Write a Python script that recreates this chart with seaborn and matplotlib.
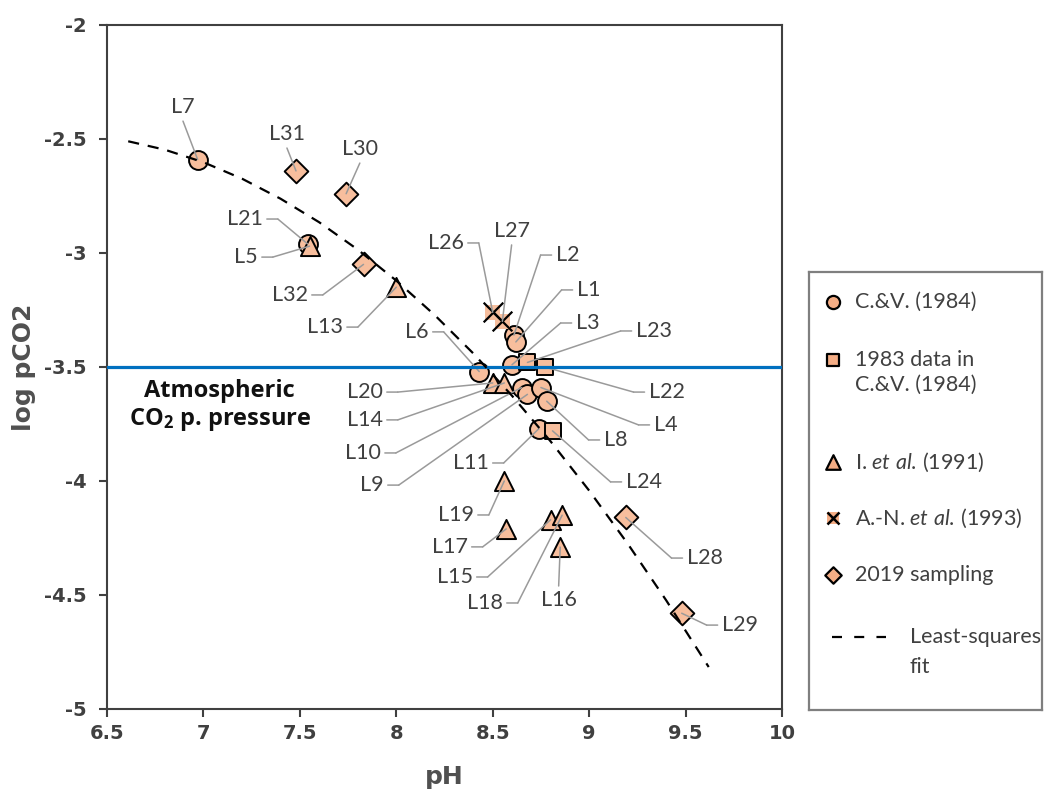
import matplotlib
matplotlib.use("Agg")
import matplotlib.pyplot as plt
import numpy as np
import pandas as pd
import seaborn as sns
from matplotlib.transforms import offset_copy

# ---------------- data ----------------
cv_labels = ["L7", "L21", "L2", "L1", "L3", "L6", "L10", "L9", "L4", "L8", "L11"]
cv_ph = [6.97, 7.54, 8.61, 8.62, 8.60, 8.43, 8.65, 8.68, 8.75, 8.78, 8.74]
cv_pco2 = [-2.59, -2.96, -3.36, -3.39, -3.49, -3.52, -3.59, -3.62, -3.59, -3.65, -3.77]

sq_labels = ["L23", "L22", "L24"]
sq_ph = [8.68, 8.77, 8.81]
sq_pco2 = [-3.48, -3.50, -3.78]

tri_labels = ["L5", "L13", "L20", "L14", "L19", "L17", "L15", "L18", "L16"]
tri_ph = [7.55, 8.00, 8.50, 8.56, 8.56, 8.57, 8.80, 8.86, 8.85]
tri_pco2 = [-2.97, -3.15, -3.57, -3.57, -4.00, -4.21, -4.17, -4.15, -4.29]

an_labels = ["L26", "L27"]
an_ph = [8.50, 8.55]
an_pco2 = [-3.26, -3.30]

s19_labels = ["L31", "L30", "L32", "L28", "L29"]
s19_ph = [7.48, 7.74, 7.83, 9.19, 9.48]
s19_pco2 = [-2.64, -2.74, -3.05, -4.16, -4.58]

fit_ph = [6.61, 6.8, 7.0, 7.2, 7.4, 7.6, 7.8, 8.0, 8.2, 8.4, 8.6, 8.8, 9.0, 9.2, 9.4, 9.62]
fit_pco2 = [-2.51, -2.547, -2.602, -2.674, -2.762, -2.865, -2.985, -3.121, -3.273,
            -3.441, -3.626, -3.826, -4.042, -4.275, -4.524, -4.816]

atm_pco2 = -3.5

x_ticks = [6.5, 7, 7.5, 8, 8.5, 9, 9.5, 10]
x_ticklabels = ["6.5", "7", "7.5", "8", "8.5", "9", "9.5", "10"]
y_ticks = [-5, -4.5, -4, -3.5, -3, -2.5, -2]
y_ticklabels = ["-5", "-4.5", "-4", "-3.5", "-3", "-2.5", "-2"]

series_names = ["C.&V. (1984)", "1983 data in C.&V. (1984)", "I. et al. (1991)",
                "A.-N. et al. (1993)", "2019 sampling"]

# ---------------- layout / style (not data) ----------------
callout_pos = {  # label: (side, anchor pH, anchor logpCO2)
    "L7": ("T", 6.894, -2.404), "L31": ("T", 7.433, -2.522), "L30": ("T", 7.811, -2.588),
    "L27": ("T", 8.598, -2.947), "L16": ("B", 8.842, -4.478),
    "L21": ("L", 7.308, -2.851), "L5": ("L", 7.282, -3.018), "L32": ("L", 7.541, -3.184),
    "L13": ("L", 7.723, -3.325), "L6": ("L", 8.168, -3.346), "L26": ("L", 8.350, -2.956),
    "L11": ("L", 8.479, -3.921), "L20": ("L", 7.930, -3.610), "L14": ("L", 7.930, -3.732),
    "L10": ("L", 7.920, -3.877), "L9": ("L", 7.935, -4.018), "L19": ("L", 8.402, -4.149),
    "L17": ("L", 8.370, -4.289), "L15": ("L", 8.396, -4.421), "L18": ("L", 8.552, -4.535),
    "L2": ("R", 8.826, -3.009), "L1": ("R", 8.935, -3.162), "L3": ("R", 8.930, -3.307),
    "L23": ("R", 9.241, -3.342), "L22": ("R", 9.308, -3.610), "L4": ("R", 9.334, -3.754),
    "L8": ("R", 9.075, -3.820), "L24": ("R", 9.189, -4.004), "L28": ("R", 9.505, -4.338),
    "L29": ("R", 9.687, -4.632),
}

FILL = "#F7BE9D"
EDGE = "black"
TXT = "#404040"
LEAD = "#9A9A9A"
BLUE = "#0070C0"

sns.set_style("white")
plt.rcParams["font.family"] = ["Lato", "DejaVu Sans"]
plt.rcParams["mathtext.fontset"] = "custom"
plt.rcParams["mathtext.rm"] = "Lato"
plt.rcParams["mathtext.it"] = "Lato:italic"
plt.rcParams["mathtext.bf"] = "Open Sans:bold"

W, H = 1046, 791
fig = plt.figure(figsize=(W / 100, H / 100), dpi=100)
fig.patch.set_facecolor("white")
ax = fig.add_axes([107 / W, 1 - 709 / H, (782 - 107) / W, (709 - 25) / H])
ax.set_facecolor("white")

def frame(ph, pc, lab, src):
    return pd.DataFrame({"pH": ph, "logpCO2": pc, "label": lab, "source": src})

df = pd.concat([
    frame(cv_ph, cv_pco2, cv_labels, series_names[0]),
    frame(sq_ph, sq_pco2, sq_labels, series_names[1]),
    frame(tri_ph, tri_pco2, tri_labels, series_names[2]),
    frame(an_ph, an_pco2, an_labels, series_names[3]),
    frame(s19_ph, s19_pco2, s19_labels, series_names[4]),
], ignore_index=True)

marker_style = {
    series_names[0]: dict(marker="o", s=185),
    series_names[1]: dict(marker="s", s=120),
    series_names[2]: dict(marker="^", s=190),
    series_names[4]: dict(marker="D", s=145),
}
for name in [series_names[0], series_names[1], series_names[2]]:
    sns.scatterplot(data=df[df.source == name], x="pH", y="logpCO2", ax=ax,
                    color=FILL, edgecolor=EDGE, linewidth=1.4, legend=False,
                    zorder=3, **marker_style[name])
sub = df[df.source == series_names[3]]
sns.scatterplot(data=sub, x="pH", y="logpCO2", ax=ax, marker="s", s=115, color=FILL,
                edgecolor="none", linewidth=0, legend=False, zorder=3)
sns.scatterplot(data=sub, x="pH", y="logpCO2", ax=ax, marker="x", s=200, color="black",
                linewidth=1.6, legend=False, zorder=3.1)
sns.scatterplot(data=df[df.source == series_names[4]], x="pH", y="logpCO2", ax=ax,
                color=FILL, edgecolor=EDGE, linewidth=1.4, legend=False, zorder=3,
                **marker_style[series_names[4]])

# least-squares fit and atmospheric line
sns.lineplot(x=fit_ph, y=fit_pco2, ax=ax, color="black", linewidth=1.6,
             linestyle=(0, (5, 4)), zorder=5, sort=False)
ax.axhline(atm_pco2, color=BLUE, linewidth=2.3, zorder=4.5)

# callouts
lp = dict(arrowstyle="-", color=LEAD, lw=1.1, shrinkA=0, shrinkB=0)
GAP, STUB = 4, 11
def off(dx, dy):
    return offset_copy(ax.transData, fig=fig, x=dx, y=dy, units="dots")

for _, r in df.iterrows():
    side, lx, ly = callout_pos[r.label]
    x, y = r.pH, r.logpCO2
    if side in ("L", "R"):
        s = 1 if side == "L" else -1
        ax.text(lx, ly, r.label, ha="right" if side == "L" else "left", va="center",
                fontsize=15.5, color=TXT, zorder=6)
        ax.annotate("", xy=(lx, ly), xycoords=off(s * (GAP + STUB), 0),
                    xytext=(lx, ly), textcoords=off(s * GAP, 0), arrowprops=lp, zorder=4)
        ax.annotate("", xy=(x, y), xycoords="data", xytext=(lx, ly),
                    textcoords=off(s * (GAP + STUB), 0), arrowprops=lp, zorder=4)
    else:
        top = side == "T"
        ax.text(lx, ly, r.label, ha="center", va="bottom" if top else "top",
                fontsize=15.5, color=TXT, zorder=6)
        ax.annotate("", xy=(x, y), xycoords="data", xytext=(lx, ly),
                    textcoords=off(0, -GAP if top else GAP), arrowprops=lp, zorder=4)

# atmospheric text
ax.text(7.085, -3.632, "Atmospheric", ha="center", va="baseline", fontsize=17,
        fontweight="bold", family="Open Sans", color="#111111", zorder=6)
ax.text(7.085, -3.754, r"$\mathbf{CO_2}$ p. pressure", ha="center", va="baseline",
        fontsize=17, fontweight="bold", family="Open Sans", color="#111111", zorder=6)

# axes styling
ax.set_xlim(6.5, 10)
ax.set_ylim(-5, -2)
ax.set_xticks(x_ticks, x_ticklabels)
ax.set_yticks(y_ticks, y_ticklabels)
for lab in ax.get_xticklabels() + ax.get_yticklabels():
    lab.set_fontfamily("DejaVu Sans")
    lab.set_fontweight("bold")
ax.tick_params(axis="both", direction="out", length=6, width=1.5, color="#404040",
               labelsize=14, labelcolor="#404040")
ax.tick_params(axis="y", pad=9, left=True)
ax.tick_params(axis="x", pad=5, bottom=True)
for sp in ax.spines.values():
    sp.set_visible(True)
    sp.set_color("#404040")
    sp.set_linewidth(1.5)
ax.set_xlabel("pH", fontsize=18, fontweight="bold", family="DejaVu Sans", color="#505050")
ax.set_ylabel("log pCO2", fontsize=18, fontweight="bold", family="DejaVu Sans",
              color="#505050")
ax.xaxis.set_label_coords(0.5, -0.082)
ax.yaxis.set_label_coords(-0.105, 0.5)

# legend box (manual, pixel coordinates)
lg = fig.add_axes([809 / W, 1 - 710 / H, (1042 - 809) / W, (710 - 272) / H])
lg.set_xlim(809, 1042)
lg.set_ylim(710, 272)
lg.set_xticks([])
lg.set_yticks([])
for sp in lg.spines.values():
    sp.set_color("#7f7f7f")
    sp.set_linewidth(1.6)
mx = 833
LEGFILL = "#F4AD85"
lg.scatter([mx], [302], marker="o", s=90, color=LEGFILL, edgecolor=EDGE, linewidth=1.6)
lg.scatter([mx], [360], marker="s", s=85, color=LEGFILL, edgecolor=EDGE, linewidth=1.6)
lg.scatter([mx], [462], marker="^", s=110, color=LEGFILL, edgecolor=EDGE, linewidth=1.6)
lg.scatter([mx], [518], marker="s", s=70, color=LEGFILL, edgecolor="none")
lg.scatter([mx], [518], marker="x", s=75, color="black", linewidth=1.8)
lg.scatter([mx], [575], marker="D", s=70, color=LEGFILL, edgecolor=EDGE, linewidth=1.6)
lg.plot([832, 886], [637, 637], color="black", linewidth=1.6, linestyle=(0, (4.5, 5.5)))
tx = 855
kw = dict(fontsize=15.5, color=TXT, va="center", ha="left")
lg.text(tx, 302, "C.&V. (1984)", **kw)
lg.text(tx, 360, "1983 data in", **kw)
lg.text(tx, 385, "C.&V. (1984)", **kw)
lg.text(tx, 462, r"I. $\mathit{et\ al.\,}$(1991)", **kw)
lg.text(tx, 518, r"A.-N. $\mathit{et\ al.\,}$(1993)", **kw)
lg.text(tx, 575, "2019 sampling", **kw)
lg.text(910, 637, "Least-squares", **kw)
lg.text(910, 667, "fit", **kw)

fig.savefig("out.png", dpi=100, facecolor="white")
